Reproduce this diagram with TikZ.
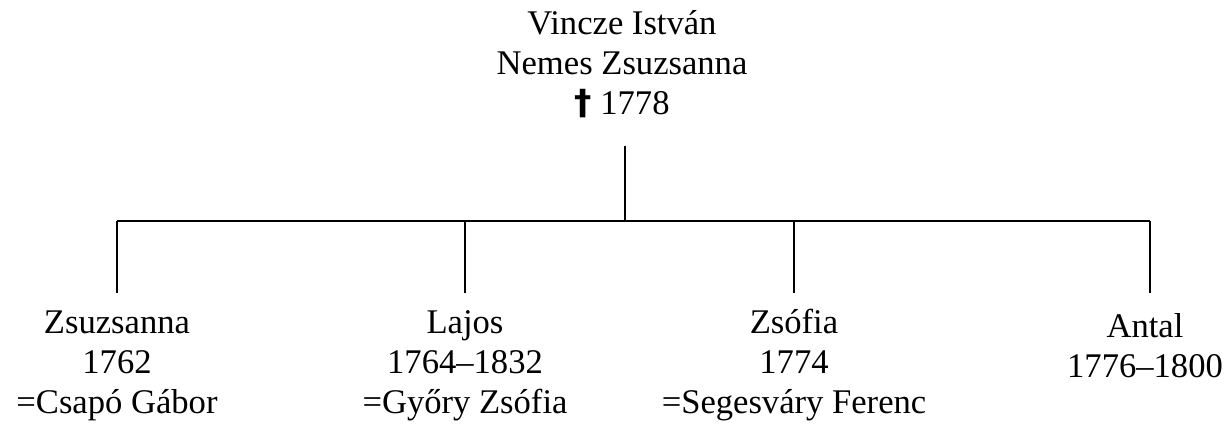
\documentclass[tikz,border=0pt]{standalone}
\usepackage{fontspec}
\setmainfont{Liberation Serif}
\newfontfamily\crossfont{DejaVu Sans}
\usepackage{tikz}
\usetikzlibrary{
	positioning,
	calc,
	}

\tikzset{
	person/.style={align=center, anchor=base, inner sep=0pt,
		font=\fontsize{17.3pt}{20pt}\selectfont},
	line/.style={draw, line width=1pt},
}

\begin{document}
\begin{tikzpicture}[x=0.5pt, y=-0.5pt]
						\useasboundingbox (0,0) rectangle (1230,427);
						\node[person] (0) at (622,115) {Vincze István\\Nemes Zsuzsanna\\{\crossfont\bfseries †} 1778};
						\node[person] (1) at (117,413) {Zsuzsanna\\1762\\=Csapó Gábor};
						\node[person] (2) at (465,413) {Lajos\\1764–1832\\=Győry Zsófia};
						\node[person] (3) at (794,413) {Zsófia\\1774\\=Segesváry Ferenc};
						\node[person] (4) at (1145,377) {Antal\\1776–1800};
	
						\coordinate (t0) at (625,146);
						\coordinate (b0) at (625,221);
						\coordinate (t1) at (117,221);
						\coordinate (t2) at (465,221);
						\coordinate (t3) at (794,221);
						\coordinate (t4) at (1150,221);
						\coordinate (b1) at (117,293);
						\coordinate (b2) at (465,293);
						\coordinate (b3) at (794,293);
						\coordinate (b4) at (1150,293);
	
						\draw[line] (t0) -- (b0);
						\draw[line] (t1) -- (t4);
						\draw[line] (t1) -- (b1);
						\draw[line] (t2) -- (b2);
						\draw[line] (t3) -- (b3);
						\draw[line] (t4) -- (b4);
					\end{tikzpicture}
\end{document}
